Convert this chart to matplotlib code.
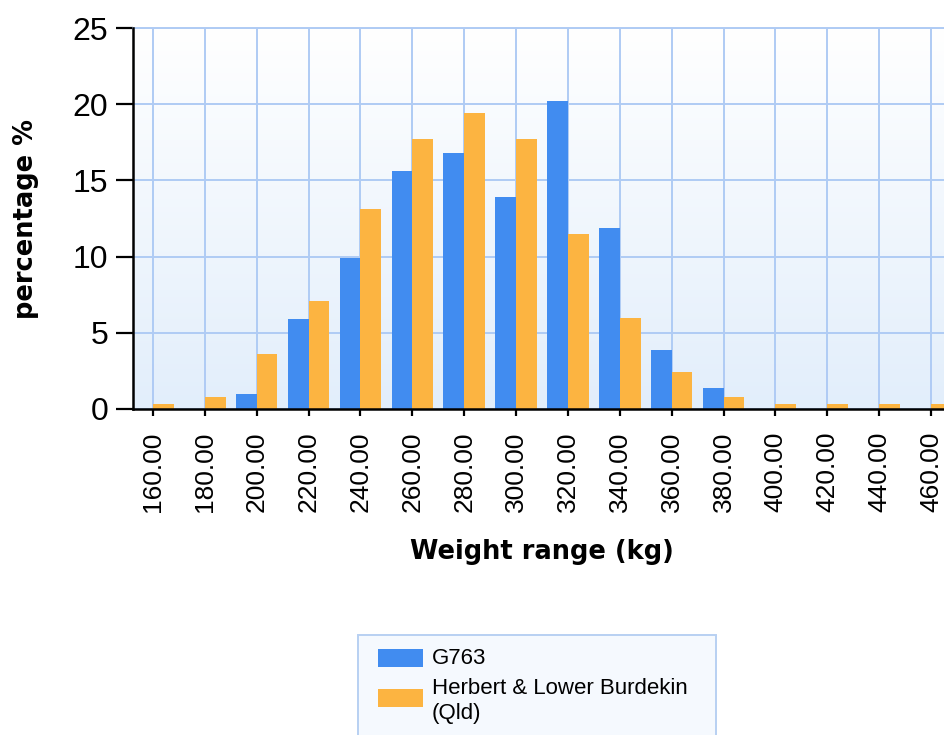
import numpy as np
import matplotlib
matplotlib.use("Agg")
import matplotlib.pyplot as plt
from matplotlib.patches import Rectangle

weights = [160, 180, 200, 220, 240, 260, 280, 300, 320, 340, 360, 380, 400, 420, 440, 460]
g763 = [0, 0, 1.0, 5.9, 9.9, 15.6, 16.8, 13.9, 20.2, 11.9, 3.9, 1.4, 0, 0, 0, 0]
herbert = [0.3, 0.8, 3.6, 7.1, 13.1, 17.7, 19.4, 17.7, 11.5, 6.0, 2.4, 0.8, 0.3, 0.3, 0.3, 0.3]
tick_labels = [f"{w:.2f}" for w in weights]
series_names = ["G763", "Herbert & Lower Burdekin\n(Qld)"]
colors = ["#418CF0", "#FCB441"]

W, H = 944, 735
fig = plt.figure(figsize=(W / 100, H / 100), dpi=100)
fig.patch.set_facecolor("white")

ax_left, ax_right, ax_top, ax_bot = 133, 951, 28, 409
ax = fig.add_axes([ax_left / W, (H - ax_bot) / H, (ax_right - ax_left) / W, (ax_bot - ax_top) / H])

x = np.arange(len(weights))
bw = 0.4
ax.bar(x - bw / 2, g763, width=bw, color=colors[0], zorder=3)
ax.bar(x + bw / 2, herbert, width=bw, color=colors[1], zorder=3)

# gradient background
grad = np.linspace(0, 1, 256).reshape(-1, 1)
top = np.array([1.0, 1.0, 1.0])
bot = np.array([226, 238, 251]) / 255
img = top * (1 - grad)[..., None] + bot * grad[..., None]
img = img.reshape(256, 1, 3)
ax.imshow(img, extent=(0, 1, 0, 1), transform=ax.transAxes, aspect="auto", zorder=0)
ax.set_xlim(-0.386, len(weights) - 1 + 0.386)
ax.set_ylim(0, 25)

ax.set_xticks(x)
ax.set_xticklabels(tick_labels, rotation=90, fontsize=19, family="Liberation Sans")
ax.set_yticks([0, 5, 10, 15, 20, 25])
ax.set_yticklabels(["0", "5", "10", "15", "20", "25"], fontsize=23, family="Liberation Sans")

ax.grid(True, color="#afcbf4", linewidth=1.4, zorder=1)
ax.set_axisbelow(True)

for s in ["left", "bottom"]:
    ax.spines[s].set_color("black")
    ax.spines[s].set_linewidth(1.8)
    ax.spines[s].set_zorder(4)
ax.spines["top"].set_color("#afcbf4")
ax.spines["top"].set_linewidth(1.4)
ax.spines["right"].set_visible(False)

ax.tick_params(axis="y", length=12, width=1.6, pad=6, color="black")
ax.tick_params(axis="x", length=5, width=1.6, pad=11, color="black")

fig.text((ax_left + ax_right) / 2 / W, 1 - 552 / H, "Weight range (kg)", ha="center", va="center",
         fontsize=18.5, fontweight="bold", family="DejaVu Sans")
fig.text(26 / W, 1 - 219 / H, "percentage %", ha="center", va="center", rotation=90,
         fontsize=18.5, fontweight="bold", family="DejaVu Sans")

# legend box
lx0, lx1, ly0 = 358, 716, 635
leg = Rectangle((lx0 / W, -0.05), (lx1 - lx0) / W, (H - ly0) / H + 0.05, transform=fig.transFigure,
                facecolor="#f5f9fe", edgecolor="#b8d0f2", linewidth=1.4, zorder=1)
fig.patches.append(leg)
fig.patches.append(Rectangle((378 / W, 1 - 667 / H), 45 / W, 18 / H, transform=fig.transFigure,
                             facecolor=colors[0], edgecolor="none", zorder=2))
fig.patches.append(Rectangle((378 / W, 1 - 707 / H), 45 / W, 18 / H, transform=fig.transFigure,
                             facecolor=colors[1], edgecolor="none", zorder=2))
fig.text(432 / W, 1 - 658 / H, series_names[0], ha="left", va="center", fontsize=16,
         family="Liberation Sans")
fig.text(432 / W, 1 - 701 / H, series_names[1], ha="left", va="center", fontsize=16,
         family="Liberation Sans", linespacing=1.2)

fig.savefig("out.png", dpi=100)
